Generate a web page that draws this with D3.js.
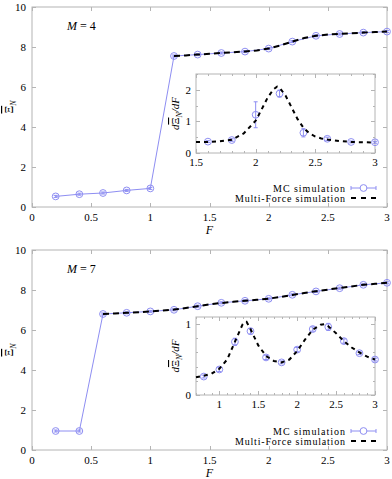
<!DOCTYPE html>
<html><head><meta charset="utf-8">
<script src="https://cdn.jsdelivr.net/npm/d3@7"></script>
<style>body{margin:0;background:#fff}svg{display:block}svg text{font-family:'Liberation Serif','DejaVu Serif',serif;}</style>
</head><body>
<script>
// ---------- data ----------
const mcF = [0.2,0.4,0.6,0.8,1.0,1.2,1.4,1.6,1.8,2.0,2.2,2.4,2.6,2.8,3.0];
const mcM4 = [0.53,0.64,0.70,0.83,0.93,7.55,7.62,7.70,7.77,7.92,8.27,8.56,8.65,8.72,8.77];
const mcM7 = [0.95,0.95,6.80,6.86,6.93,7.01,7.19,7.36,7.46,7.56,7.76,7.93,8.09,8.26,8.36];
const mfF4 = [1.2,1.3,1.4,1.5,1.6,1.7,1.8,1.9,2.0,2.1,2.2,2.3,2.4,2.5,2.6,2.7,2.8,2.9,3.0];
const mfM4 = [7.55,7.58,7.62,7.66,7.70,7.74,7.78,7.83,7.92,8.08,8.27,8.45,8.56,8.62,8.66,8.69,8.72,8.75,8.77];
const mfF7 = [0.6,0.7,0.8,0.9,1.0,1.1,1.2,1.3,1.4,1.5,1.6,1.7,1.8,1.9,2.0,2.1,2.2,2.3,2.4,2.5,2.6,2.7,2.8,2.9,3.0];
const mfM7 = [6.80,6.83,6.86,6.89,6.93,6.97,7.02,7.10,7.19,7.28,7.35,7.41,7.46,7.51,7.57,7.65,7.75,7.85,7.94,8.02,8.10,8.18,8.26,8.31,8.36];
// insets (derivative)
const dmcF4 = [1.6,1.8,2.0,2.2,2.4,2.6,2.8,3.0];
const dmcM4 = [0.36,0.41,1.21,1.88,0.64,0.45,0.35,0.34];
const dmcErr4 = [0.03,0.04,0.41,0.11,0.13,0.05,0.03,0.03];
const dmfF4 = [1.5,1.6,1.7,1.8,1.9,2.0,2.05,2.1,2.15,2.18,2.2,2.25,2.3,2.35,2.4,2.45,2.5,2.55,2.6,2.7,2.8,2.9,3.0];
const dmfM4 = [0.35,0.35,0.37,0.42,0.62,1.02,1.38,1.75,2.02,2.10,2.07,1.82,1.45,1.08,0.80,0.62,0.52,0.46,0.43,0.38,0.35,0.34,0.33];
const dmcF7 = [0.8,1.0,1.2,1.4,1.6,1.8,2.0,2.2,2.4,2.6,2.8,3.0];
const dmcM7 = [0.26,0.36,0.75,0.90,0.53,0.46,0.64,0.93,0.96,0.76,0.59,0.50];
const dmcErr7 = [0.02,0.03,0.05,0.04,0.03,0.02,0.03,0.03,0.05,0.03,0.02,0.02];
const dmfF7 = [0.7,0.8,0.9,1.0,1.1,1.2,1.3,1.35,1.4,1.5,1.6,1.7,1.8,1.9,2.0,2.1,2.2,2.3,2.35,2.4,2.5,2.6,2.7,2.8,2.9,3.0];
const dmfM7 = [0.25,0.27,0.30,0.37,0.50,0.75,1.00,1.03,0.93,0.70,0.55,0.48,0.46,0.50,0.62,0.78,0.92,0.99,1.00,0.97,0.87,0.76,0.67,0.60,0.54,0.50];
const mainXTicks = [0,0.5,1,1.5,2,2.5,3];
const mainYTicks = [0,2,4,6,8,10];
const inset4XTicks = [1.5,2,2.5,3];
const inset4YTicks = [0,1,2];
const inset7XTicks = [1,1.5,2,2.5,3];
const inset7YTicks = [0,1];
const legendLabels = ["MC simulation","Multi-Force simulation"];

// ---------- drawing ----------
const W=392,H=479;
const svg=d3.select("body").append("svg").attr("width",W).attr("height",H);
const BLUE="#8e8ef2", FRAME="#b4b4b4";
const XI="\u039E";

function frame(g,x,y,xt,yt,opts){
  const [x0,x1]=x.range(), [y0,y1]=y.range();
  const L=opts.tick, fs=opts.fs;
  g.append("rect").attr("x",x0).attr("y",y1).attr("width",x1-x0).attr("height",y0-y1)
    .attr("fill",opts.fill||"none").attr("stroke",FRAME).attr("stroke-width",1);
  const tg=g.append("g").attr("stroke",FRAME).attr("stroke-width",1);
  (opts.xminor||[]).forEach(v=>{const p=Math.round(x(v))+0.5;
    tg.append("line").attr("x1",p).attr("x2",p).attr("y1",y0).attr("y2",y0-L/2);
    tg.append("line").attr("x1",p).attr("x2",p).attr("y1",y1).attr("y2",y1+L/2);});
  (opts.yminor||[]).forEach(v=>{const p=Math.round(y(v))+0.5;
    tg.append("line").attr("y1",p).attr("y2",p).attr("x1",x0).attr("x2",x0+L/2);
    tg.append("line").attr("y1",p).attr("y2",p).attr("x1",x1).attr("x2",x1-L/2);});
  xt.forEach(v=>{const p=Math.round(x(v))+0.5;
    tg.append("line").attr("x1",p).attr("x2",p).attr("y1",y0).attr("y2",y0-L);
    tg.append("line").attr("x1",p).attr("x2",p).attr("y1",y1).attr("y2",y1+L);
    g.append("text").attr("x",x(v)).attr("y",y0+opts.xlab).attr("text-anchor","middle")
      .attr("font-size",fs).text(v);});
  yt.forEach(v=>{const p=Math.round(y(v))+0.5;
    tg.append("line").attr("y1",p).attr("y2",p).attr("x1",x0).attr("x2",x0+L);
    tg.append("line").attr("y1",p).attr("y2",p).attr("x1",x1).attr("x2",x1-L);
    g.append("text").attr("x",x0-opts.ylab).attr("y",y(v)+4).attr("text-anchor","end")
      .attr("font-size",fs).text(v);});
}
function mc(g,x,y,X,Y,E,r,withLine){
  if(withLine){
    const line=d3.line().x((d,i)=>x(X[i])).y(d=>y(d));
    g.append("path").attr("d",line(Y)).attr("fill","none").attr("stroke",BLUE).attr("stroke-width",1);
  }
  Y.forEach((v,i)=>{
    const cx=x(X[i]), e=E?E[i]:0.05;
    g.append("line").attr("x1",cx).attr("x2",cx).attr("y1",y(v-e)).attr("y2",y(v+e)).attr("stroke",BLUE);
    [v-e,v+e].forEach(w=>g.append("line").attr("x1",cx-2).attr("x2",cx+2).attr("y1",y(w)).attr("y2",y(w)).attr("stroke",BLUE));
    g.append("circle").attr("cx",cx).attr("cy",y(v)).attr("r",r).attr("fill","none").attr("stroke",BLUE).attr("stroke-width",1);
  });
}
function mf(g,x,y,X,Y,dash){
  const line=d3.line().x((d,i)=>x(X[i])).y(d=>y(d));
  g.append("path").attr("d",line(Y)).attr("fill","none").attr("stroke","#000")
   .attr("stroke-width",2).attr("stroke-dasharray",dash);
}
function minor(a,b,s){const r=[];for(let v=a;v<=b+1e-9;v+=s){r.push(+v.toFixed(3));}return r;}

function panel(oy,mcY,mfX,mfY,Mlabel,ins){
  const g=svg.append("g");
  const x=d3.scaleLinear().domain([0,3]).range([32,387]);
  const y=d3.scaleLinear().domain([0,10]).range([oy+200,oy]);
  frame(g,x,y,mainXTicks,mainYTicks,{tick:4,fs:11,xlab:14,ylab:6});
  mc(g,x,y,mcF,mcY,null,3.4,true);
  mf(g,x,y,mfX,mfY,"6,4");
  // labels
  const t=g.append("text").attr("x",67).attr("y",oy+23).attr("font-size",12);
  t.append("tspan").attr("font-style","italic").text("M");
  t.append("tspan").text(" = "+Mlabel);
  g.append("text").attr("x",x(1.5)).attr("y",oy+227).attr("text-anchor","middle")
    .attr("font-size",12).attr("font-style","italic").text("F");
  const yl=g.append("text").attr("transform",`translate(13,${oy+100}) rotate(-90)`)
    .attr("text-anchor","middle").attr("font-size",12);
  yl.append("tspan").attr("text-decoration","overline").text(XI);
  yl.append("tspan").attr("font-size",8).attr("dy",3).attr("font-style","italic").text("N");
  // inset
  const ix=d3.scaleLinear().domain(ins.xd).range([196,375]);
  const iy=d3.scaleLinear().domain(ins.yd).range([ins.y0,ins.y1]);
  const gi=g.append("g");
  frame(gi,ix,iy,ins.xt,ins.yt,{tick:4,fs:11,xlab:13,ylab:5,fill:"#fff",
    xminor:minor(ins.xd[0],ins.xd[1],0.1),yminor:minor(0,ins.yd[1],ins.ym)});
  mc(gi,ix,iy,ins.mcX,ins.mcY,ins.err,3.4,false);
  mf(gi,ix,iy,ins.mfX,ins.mfY,"4,4");
  const il=gi.append("text").attr("transform",`translate(179,${(ins.y0+ins.y1)/2}) rotate(-90)`)
    .attr("text-anchor","middle").attr("font-size",11).attr("font-style","italic");
  il.append("tspan").text("d");
  il.append("tspan").attr("font-style","normal").attr("text-decoration","overline").text(XI);
  il.append("tspan").attr("font-size",8).attr("dy",3).text("N");
  il.append("tspan").attr("dy",-3).text("/dF");
  // legend
  const ly=[oy+181,oy+191];
  g.append("text").attr("x",345).attr("y",ly[0]+3.5).attr("text-anchor","end").attr("font-size",10)
    .attr("textLength",72).attr("lengthAdjust","spacing").text(legendLabels[0]);
  g.append("text").attr("x",345).attr("y",ly[1]+3.5).attr("text-anchor","end").attr("font-size",10)
    .attr("textLength",110).attr("lengthAdjust","spacing").text(legendLabels[1]);
  g.append("line").attr("x1",351).attr("x2",376).attr("y1",ly[0]).attr("y2",ly[0]).attr("stroke",BLUE);
  [351,376].forEach(p=>g.append("line").attr("x1",p).attr("x2",p).attr("y1",ly[0]-2).attr("y2",ly[0]+2).attr("stroke",BLUE));
  g.append("circle").attr("cx",363.5).attr("cy",ly[0]).attr("r",3.4).attr("fill","#fff").attr("stroke",BLUE);
  g.append("line").attr("x1",351).attr("x2",377).attr("y1",ly[1]).attr("y2",ly[1]).attr("stroke","#000")
    .attr("stroke-width",2).attr("stroke-dasharray","5,5");
}

panel(7,mcM4,mfF4,mfM4,"4",{xd:[1.5,3],yd:[0,2.5],y0:153,y1:74,xt:inset4XTicks,yt:inset4YTicks,ym:0.5,
  mcX:dmcF4,mcY:dmcM4,err:dmcErr4,mfX:dmfF4,mfY:dmfM4});
panel(250,mcM7,mfF7,mfM7,"7",{xd:[0.7,3],yd:[0,1.1],y0:395,y1:317,xt:inset7XTicks,yt:inset7YTicks,ym:0.2,
  mcX:dmcF7,mcY:dmcM7,err:dmcErr7,mfX:dmfF7,mfY:dmfM7});
</script>
</body></html>
